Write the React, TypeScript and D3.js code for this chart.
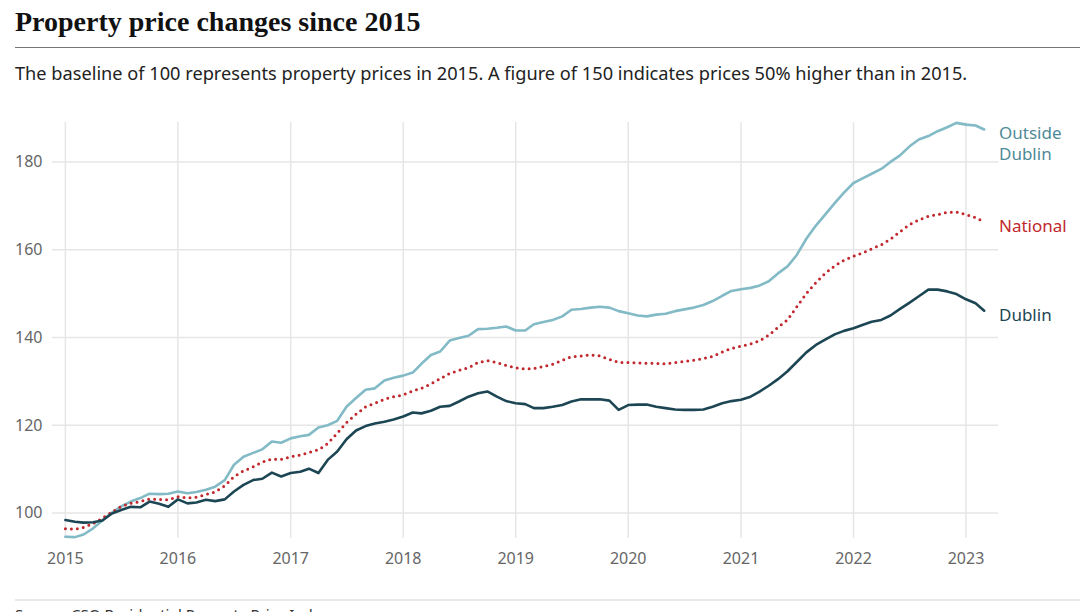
import React from "react";
import * as d3 from "d3";

// Monthly index, Jan 2015 to Mar 2023 (2015 = 100)
const dublin = [
  98.4, 98.0, 97.8, 97.9, 98.3, 99.9, 100.7, 101.4, 101.3, 102.6, 102.1, 101.4,
  103.1, 102.2, 102.4, 103.0, 102.7, 103.1, 104.9, 106.4, 107.5, 107.8, 109.2, 108.3,
  109.1, 109.4, 110.1, 109.1, 112.1, 114.0, 116.8, 118.8, 119.8, 120.4, 120.8, 121.3,
  122.0, 122.9, 122.7, 123.3, 124.2, 124.4, 125.4, 126.5, 127.3, 127.7, 126.5, 125.5,
  125.0, 124.8, 123.9, 123.9, 124.2, 124.6, 125.4, 125.9, 125.9, 125.9, 125.6, 123.5,
  124.6, 124.7, 124.7, 124.2, 123.9, 123.6, 123.5, 123.5, 123.6, 124.2, 125.0, 125.5,
  125.8, 126.5, 127.6, 129.0, 130.5, 132.3, 134.4, 136.6, 138.3, 139.5, 140.7, 141.5,
  142.1, 142.9, 143.6, 144.0, 145.0, 146.5, 147.9, 149.4, 150.9, 150.9, 150.5, 149.9,
  148.7, 147.8, 146.1,
];

const outsideDublin = [
  94.6, 94.5, 95.1, 96.5, 98.3, 100.1, 101.5, 102.6, 103.4, 104.4, 104.3, 104.4,
  104.9, 104.5, 104.8, 105.3, 106.0, 107.5, 111.0, 112.8, 113.7, 114.5, 116.3, 116.0,
  117.0, 117.5, 117.8, 119.5, 120.0, 121.0, 124.2, 126.2, 128.1, 128.4, 130.2, 130.8,
  131.3, 132.0, 134.0, 136.0, 136.8, 139.3, 139.9, 140.4, 141.9, 142.0, 142.2, 142.5,
  141.6, 141.6, 143.0, 143.5, 144.0, 144.8, 146.3, 146.5, 146.8, 147.0, 146.8, 146.0,
  145.5, 145.0, 144.8, 145.2, 145.4, 146.0, 146.4, 146.8, 147.4, 148.3, 149.5, 150.6,
  151.0, 151.3, 151.8, 152.8, 154.6, 156.2, 158.8, 162.5, 165.5, 168.0, 170.6, 173.0,
  175.2, 176.3, 177.3, 178.4, 180.0, 181.5, 183.5, 185.1, 185.9, 187.0, 187.9, 188.9,
  188.5, 188.3, 187.4,
];

const national = [
  96.4, 96.3, 96.7, 97.6, 98.8, 100.2, 101.5, 102.2, 102.6, 103.2, 103.1, 103.0,
  103.7, 103.4, 103.6, 104.2, 104.8, 106.2, 108.3, 109.6, 110.5, 111.6, 112.3, 112.2,
  112.8, 113.2, 113.8, 114.4, 115.8, 118.2, 120.6, 122.5, 124.2, 125.0, 125.9, 126.5,
  126.9, 127.8, 128.4, 129.4, 130.6, 131.8, 132.5, 133.1, 134.3, 134.7, 134.3, 133.6,
  133.1, 132.8, 132.9, 133.4, 133.9, 134.8, 135.6, 135.8, 136.0, 135.8, 135.0, 134.3,
  134.3, 134.2, 134.1, 134.1, 134.0, 134.3, 134.5, 134.8, 135.2, 135.7, 136.7, 137.5,
  138.0, 138.5, 139.2, 140.5, 142.3, 144.0, 147.0, 150.0, 152.5, 154.6, 156.3, 157.6,
  158.5, 159.3, 160.2, 161.1, 162.4, 164.1, 165.7, 166.8, 167.6, 168.0, 168.5, 168.6,
  168.0, 167.3, 166.3,
];

const yTicks = [100, 120, 140, 160, 180];
const xTicks = [2015, 2016, 2017, 2018, 2019, 2020, 2021, 2022, 2023];

const months = dublin.map((_, i) => new Date(2015, i, 1));

const series = [
  { name: ["Outside", "Dublin"], values: outsideDublin, color: "#82bac6", label: "#4f8a98", dotted: false },
  { name: ["National"], values: national, color: "#c1272d", label: "#c1272d", dotted: true },
  { name: ["Dublin"], values: dublin, color: "#1d4654", label: "#1d4654", dotted: false },
];

const sans = "'Noto Sans', Lato, sans-serif";

export default function App() {
  const width = 1080;
  const height = 612;
  const plot = { left: 52, right: 998, top: 122, bottom: 538 };

  const x = d3.scaleTime()
    .domain([new Date(2015, 0, 1), new Date(2023, 0, 1)])
    .range([65.4, 966]);

  const all = [...dublin, ...outsideDublin, ...national];
  const [minV, maxV] = d3.extent(all) as [number, number];
  const y = d3.scaleLinear()
    .domain([minV - 0.2, maxV + 0.2])
    .range([plot.bottom, plot.top]);

  const line = d3.line<number>()
    .x((_, i) => x(months[i]))
    .y(d => y(d))
    .curve(d3.curveLinear);

  return (
    <svg
      width={width}
      height={height}
      style={{ position: "absolute", left: 0, top: 0, background: "#fff" }}
    >
      {/* Titel */}
      <text x={15} y={31} fontFamily="'Liberation Serif', serif" fontWeight="bold" fontSize={28} fill="#111">
        Property price changes since 2015
      </text>
      <line x1={15} x2={width} y1={47.5} y2={47.5} stroke="#777" strokeWidth={1} />
      <text x={15} y={80} fontFamily={sans} fontSize={18.2} fill="#222">
        The baseline of 100 represents property prices in 2015. A figure of 150 indicates prices 50% higher than in 2015.
      </text>

      {/* Raster */}
      {xTicks.map(t => (
        <line
          key={"vx" + t}
          x1={x(new Date(t, 0, 1))}
          x2={x(new Date(t, 0, 1))}
          y1={plot.top}
          y2={plot.bottom}
          stroke="#e6e6e6"
          strokeWidth={1.5}
        />
      ))}
      {yTicks.map(t => (
        <line
          key={"hy" + t}
          x1={plot.left}
          x2={plot.right}
          y1={y(t)}
          y2={y(t)}
          stroke="#e6e6e6"
          strokeWidth={1.5}
        />
      ))}

      {/* Achsen */}
      {yTicks.map(t => (
        <text key={"ty" + t} x={15} y={y(t) + 5.5} fontFamily={sans} fontSize={16} fill="#666">
          {t}
        </text>
      ))}
      {xTicks.map(t => (
        <text
          key={"tx" + t}
          x={x(new Date(t, 0, 1))}
          y={564}
          textAnchor="middle"
          fontFamily={sans}
          fontSize={16}
          fill="#666"
        >
          {t}
        </text>
      ))}

      {/* Linien */}
      {series.map(s => (
        <path
          key={s.name.join(" ")}
          d={line(s.values) ?? ""}
          fill="none"
          stroke={s.color}
          strokeWidth={s.dotted ? 3 : 2.6}
          strokeDasharray={s.dotted ? "0 6" : undefined}
          strokeLinecap="round"
          strokeLinejoin="round"
        />
      ))}

      {/* Beschriftung rechts */}
      {series.map(s => {
        const last = s.values[s.values.length - 1];
        return (
          <text
            key={"lab" + s.name.join(" ")}
            x={999}
            y={y(last) + 10}
            fontFamily={sans}
            fontSize={17}
            fill={s.label}
          >
            {s.name.map((n, i) => (
              <tspan key={n} x={999} dy={i === 0 ? 0 : 21}>{n}</tspan>
            ))}
          </text>
        );
      })}

      {/* Quelle */}
      <line x1={15} x2={width} y1={600} y2={600} stroke="#e2e2e2" strokeWidth={1.5} />
      <text x={15} y={620} fontFamily={sans} fontSize={15} fill="#333">
        Source: CSO Residential Property Price Index
      </text>
    </svg>
  );
}
